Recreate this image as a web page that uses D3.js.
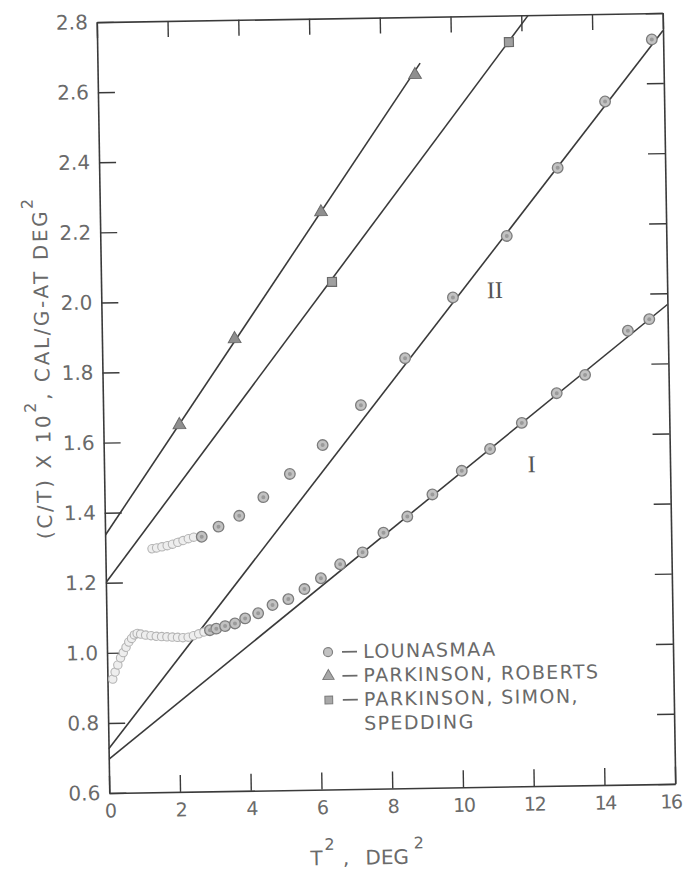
<!DOCTYPE html>
<html>
<head>
<meta charset="utf-8">
<script src="https://cdn.jsdelivr.net/npm/d3@7"></script>
<style>
  html, body { margin: 0; padding: 0; background: #fff; }
  svg { display: block; }
</style>
</head>
<body>
<div id="chart"></div>
<script>
// ---- data: x = T^2 (deg^2), y = (C/T) x 10^2 ----
const xTicks = [0, 2, 4, 6, 8, 10, 12, 14, 16];
const yTicks = [0.6, 0.8, 1.0, 1.2, 1.4, 1.6, 1.8, 2.0, 2.2, 2.4, 2.6, 2.8];

// Lounasmaa, curve I: dense low temperature run, then the separate points
const lounasmaaILow = [
  [0.15, 0.925], [0.22, 0.945], [0.30, 0.965], [0.38, 0.985], [0.46, 1.000],
  [0.54, 1.015], [0.62, 1.030], [0.70, 1.040], [0.78, 1.050], [0.86, 1.054],
  [0.96, 1.052], [1.10, 1.049], [1.25, 1.047], [1.40, 1.045], [1.55, 1.044],
  [1.70, 1.043], [1.85, 1.042], [2.00, 1.041], [2.15, 1.040], [2.30, 1.041],
  [2.45, 1.045], [2.60, 1.050], [2.75, 1.055]
];
const lounasmaaI = [
  [2.92, 1.060], [3.10, 1.064], [3.35, 1.071], [3.63, 1.078], [3.92, 1.092],
  [4.29, 1.106], [4.70, 1.129], [5.15, 1.145], [5.61, 1.173], [6.08, 1.203],
  [6.63, 1.242], [7.27, 1.275], [7.87, 1.330], [8.55, 1.375], [9.27, 1.437],
  [10.11, 1.503], [10.92, 1.564], [11.83, 1.637], [12.83, 1.720], [13.64, 1.771],
  [14.87, 1.895], [15.48, 1.927]
];

// Lounasmaa, curve II
const lounasmaaIILow = [
  [1.32, 1.295], [1.45, 1.297], [1.60, 1.300], [1.75, 1.303], [1.90, 1.307],
  [2.05, 1.312], [2.20, 1.317], [2.35, 1.322], [2.50, 1.326]
];
const lounasmaaII = [
  [2.73, 1.327], [3.21, 1.355], [3.80, 1.385], [4.49, 1.437], [5.25, 1.502],
  [6.19, 1.583], [7.29, 1.695], [8.56, 1.827], [9.94, 1.998], [11.49, 2.171],
  [12.96, 2.363], [14.33, 2.550], [15.68, 2.725]
];

// Parkinson, Roberts (triangles) and Parkinson, Simon, Spedding (squares)
const roberts = [[2.15, 1.647], [3.75, 1.890], [6.25, 2.248], [8.97, 2.635]];
const spedding = [[6.53, 2.048], [11.64, 2.724]];

// straight lines drawn through the data
const lineI = [[0, 0.696], [16, 1.968]];
const lineII = [[0, 0.726], [16, 2.750]];
const lineRoberts = [[0, 1.335], [9.12, 2.668]];
const lineSpedding = [[0, 1.200], [12.2, 2.800]];

const curveLabels = [
  { text: "II", x: 11.13, y: 2.017 },
  { text: "I", x: 12.09, y: 1.519 }
];

const legendItems = [
  { shape: "circle", lines: ["LOUNASMAA"] },
  { shape: "triangle", lines: ["PARKINSON, ROBERTS"] },
  { shape: "square", lines: ["PARKINSON, SIMON,", "SPEDDING"] }
];

// ---- layout ----
const W = 685, H = 870;
const plot = { left: 103, right: 669, top: 17.5, bottom: 788.5 };
const ink = "#3a3a3a";
const letterColor = "#6a6a6a";
const fontFamily = "'DejaVu Sans', 'Liberation Sans', sans-serif";

const svg = d3.select("#chart").append("svg")
  .attr("width", W)
  .attr("height", H);

// the scanned page sits slightly rotated
const g = svg.append("g")
  .attr("transform", "rotate(-0.93, 386, 403)");

const x = d3.scaleLinear().domain([0, 16]).range([plot.left, plot.right]);
const y = d3.scaleLinear().domain([0.6, 2.8]).range([plot.bottom, plot.top]);

function styleAxis(sel, size, spacing) {
  sel.select(".domain").attr("stroke", ink).attr("stroke-width", 1.6);
  sel.selectAll(".tick line").attr("stroke", ink).attr("stroke-width", 1.4);
  sel.selectAll(".tick text")
    .attr("fill", letterColor)
    .style("font-family", fontFamily)
    .style("font-size", (size || 20) + "px")
    .style("letter-spacing", (spacing || 0) + "px");
  sel.attr("font-family", null).attr("font-size", null);
}

// axes, ticks point inward on all four sides
const xAxis = g.append("g")
  .attr("transform", `translate(0,${plot.bottom})`)
  .call(d3.axisBottom(x).tickValues(xTicks).tickSize(-17).tickSizeOuter(0)
    .tickPadding(11).tickFormat(d3.format("d")))
  .call(styleAxis, 19, -1.5);
// last label sits right at the page edge
xAxis.selectAll(".tick text").filter(d => d === 16).attr("dx", -5);

g.append("g")
  .attr("transform", `translate(${plot.left},0)`)
  .call(d3.axisLeft(y).tickValues(yTicks).tickSize(-17).tickSizeOuter(0)
    .tickPadding(9).tickFormat(d3.format(".1f")))
  .call(styleAxis, 20, 0);

g.append("g")
  .attr("transform", `translate(0,${plot.top})`)
  .call(d3.axisTop(x).tickValues(xTicks).tickSize(-16).tickSizeOuter(0).tickFormat(""))
  .call(styleAxis);

g.append("g")
  .attr("transform", `translate(${plot.right},0)`)
  .call(d3.axisRight(y).tickValues(yTicks).tickSize(-17).tickSizeOuter(0).tickFormat(""))
  .call(styleAxis);

// ---- fitted lines ----
g.append("clipPath").attr("id", "plotClip")
  .append("rect")
  .attr("x", plot.left).attr("y", plot.top)
  .attr("width", plot.right - plot.left).attr("height", plot.bottom - plot.top);

const line = d3.line().x(d => x(d[0])).y(d => y(d[1]));

[lineI, lineII, lineRoberts, lineSpedding].forEach(pts => {
  g.append("path")
    .datum(pts)
    .attr("clip-path", "url(#plotClip)")
    .attr("fill", "none")
    .attr("stroke", ink)
    .attr("stroke-width", 1.6)
    .attr("d", line);
});

// ---- markers ----
function circles(data, r, fill, stroke, sw) {
  g.append("g").selectAll("circle")
    .data(data)
    .join("circle")
    .attr("cx", d => x(d[0]))
    .attr("cy", d => y(d[1]))
    .attr("r", r)
    .attr("fill", fill)
    .attr("stroke", stroke)
    .attr("stroke-width", sw);
}

// faint, crowded low temperature runs
circles(lounasmaaILow, 4.2, "#eeeeee", "#b4b4b4", 1.1);
circles(lounasmaaIILow, 4.2, "#eeeeee", "#b4b4b4", 1.1);
circles(lounasmaaI, 5.3, "#c2c2c2", "#7c7c7c", 1.3);
circles(lounasmaaII, 5.3, "#c2c2c2", "#7c7c7c", 1.3);

// small inner dot like the drafted ⊚ marker
g.append("g").selectAll("circle")
  .data(lounasmaaI.concat(lounasmaaII))
  .join("circle")
  .attr("cx", d => x(d[0]))
  .attr("cy", d => y(d[1]))
  .attr("r", 2)
  .attr("fill", "#9a9a9a");

g.append("g").selectAll("path")
  .data(roberts)
  .join("path")
  .attr("transform", d => `translate(${x(d[0])},${y(d[1])})`)
  .attr("d", d3.symbol(d3.symbolTriangle, 70))
  .attr("fill", "#8f8f8f")
  .attr("stroke", "#6a6a6a")
  .attr("stroke-width", 1);

g.append("g").selectAll("path")
  .data(spedding)
  .join("path")
  .attr("transform", d => `translate(${x(d[0])},${y(d[1])})`)
  .attr("d", d3.symbol(d3.symbolSquare, 80))
  .attr("fill", "#a0a0a0")
  .attr("stroke", "#6a6a6a")
  .attr("stroke-width", 1.2);

// ---- curve labels (roman numerals) ----
g.selectAll(".curve-label")
  .data(curveLabels)
  .join("text")
  .attr("class", "curve-label")
  .attr("x", d => x(d.x))
  .attr("y", d => y(d.y))
  .attr("text-anchor", "middle")
  .attr("dominant-baseline", "central")
  .style("font-family", "'Liberation Serif', 'DejaVu Serif', serif")
  .style("font-size", "24px")
  .attr("fill", "#555")
  .text(d => d.text);

// ---- legend ----
const legend = g.append("g").attr("transform", "translate(324, 657.6)");
let row = 0;
legendItems.forEach(item => {
  const cy = row * 24 - 6.5;
  if (item.shape === "circle") {
    legend.append("circle").attr("cx", 0).attr("cy", cy).attr("r", 4.5)
      .attr("fill", "#c2c2c2").attr("stroke", "#808080").attr("stroke-width", 1.2);
  } else {
    legend.append("path")
      .attr("transform", `translate(0,${cy})`)
      .attr("d", d3.symbol(item.shape === "triangle" ? d3.symbolTriangle : d3.symbolSquare,
        item.shape === "triangle" ? 55 : 60))
      .attr("fill", "#a8a8a8").attr("stroke", "#7a7a7a").attr("stroke-width", 1);
  }
  legend.append("line")
    .attr("x1", 14).attr("x2", 29).attr("y1", cy).attr("y2", cy)
    .attr("stroke", letterColor).attr("stroke-width", 1.6);
  item.lines.forEach(t => {
    legend.append("text")
      .attr("x", 35).attr("y", row * 24)
      .attr("fill", letterColor)
      .style("font-family", fontFamily)
      .style("font-size", "19px")
      .style("letter-spacing", "1.4px")
      .text(t);
    row++;
  });
});

// ---- axis titles ----
const xTitle = g.append("text")
  .attr("x", 303).attr("y", 864)
  .attr("fill", letterColor)
  .style("font-family", fontFamily)
  .style("font-size", "20px");
xTitle.append("tspan").text("T");
xTitle.append("tspan").attr("dy", -15).attr("dx", 2).style("font-size", "16px").text("2");
xTitle.append("tspan").attr("dy", 15).attr("dx", 8).text(",");
xTitle.append("tspan").attr("x", 358).text("DEG");
xTitle.append("tspan").attr("dy", -15).attr("dx", 5).style("font-size", "16px").text("2");

const yTitle = g.append("text")
  .attr("transform", "translate(50,362) rotate(-90)")
  .attr("text-anchor", "middle")
  .attr("fill", letterColor)
  .style("font-family", fontFamily)
  .style("font-size", "20px")
  .style("letter-spacing", "2.6px");
yTitle.append("tspan").text("(C/T) X 10");
yTitle.append("tspan").attr("dy", -14).style("font-size", "16px").text("2");
yTitle.append("tspan").attr("dy", 14).text(", CAL/G-AT DEG");
yTitle.append("tspan").attr("dy", -14).style("font-size", "16px").text("2");
</script>
</body>
</html>
